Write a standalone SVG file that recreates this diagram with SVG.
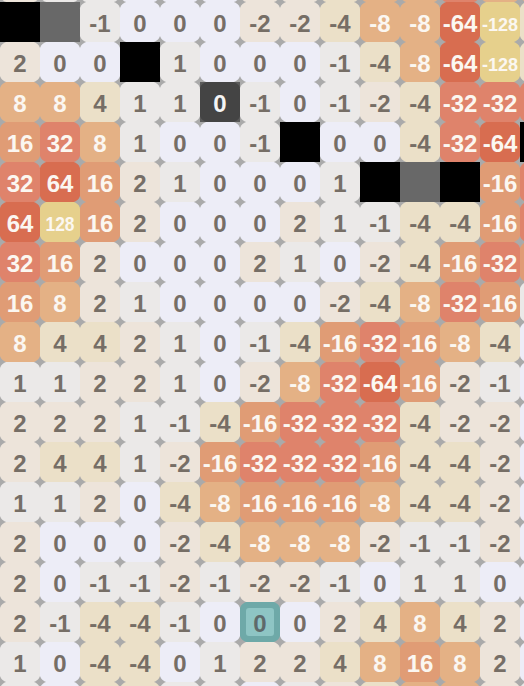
<svg xmlns="http://www.w3.org/2000/svg" xmlns:xlink="http://www.w3.org/1999/xlink" width="524" height="686" viewBox="0 0 524 686">
<style>
text{font-family:"Liberation Sans",Arial,sans-serif;font-weight:bold;font-size:24px;text-anchor:middle;fill:#766e66}
.k0 use{fill:#ededf7}
.k1 use{fill:#ebe9e8}
.k2 use{fill:#ede4da}
.k4 use{fill:#ebe0c8}
.k8 use{fill:#e4b185}
.k16 use{fill:#e09c75}
.k32 use{fill:#df836b}
.k64 use{fill:#d86d50}
.k128 use{fill:#e6d08c}
.k8 text,.k16 text,.k32 text,.k64 text,.k128 text{fill:#fbf7f1}
.m{font-size:21px}
.s{font-size:19px}
.blk{fill:#000}
.gry{fill:#686868}
.dk use{fill:#444}
.dk text{fill:#f4f4f4}
.tl use{fill:#6ea9a8}
.tlin{fill:#8ec5c4}
.tl text{fill:#5e6a6b}
</style>
<defs>
<path id="t" d="M6.5,0H33.5C36,0 40,4 40,6.5V33.5C40,36 36,40 33.5,40H6.5C4,40 0,36 0,33.5V6.5C0,4 4,0 6.5,0Z"/>
</defs>
<rect width="524" height="686" fill="#aaaaaa"/>
<g id="grid">
<!-- row 0 (partial) -->
<g id="r0c0" class="k2" transform="translate(0,-38)"><use href="#t"/></g>
<g id="r0c1" class="k1" transform="translate(40,-38)"><use href="#t"/></g>
<g id="r0c2" class="k1" transform="translate(80,-38)"><use href="#t"/></g>
<g id="r0c3" class="k0" transform="translate(120,-38)"><use href="#t"/></g>
<g id="r0c4" class="k0" transform="translate(160,-38)"><use href="#t"/></g>
<g id="r0c5" class="k0" transform="translate(200,-38)"><use href="#t"/></g>
<g id="r0c6" class="k2" transform="translate(240,-38)"><use href="#t"/></g>
<g id="r0c7" class="k2" transform="translate(280,-38)"><use href="#t"/></g>
<g id="r0c8" class="k4" transform="translate(320,-38)"><use href="#t"/></g>
<g id="r0c9" class="k8" transform="translate(360,-38)"><use href="#t"/></g>
<g id="r0c10" class="k8" transform="translate(400,-38)"><use href="#t"/></g>
<g id="r0c11" class="k32" transform="translate(440,-38)"><use href="#t"/></g>
<g id="r0c12" class="k8" transform="translate(480,-38)"><use href="#t"/></g>
<g id="r0c13" class="k8" transform="translate(520,-38)"><use href="#t"/></g>
<!-- row 1 -->
<g id="r1c0" transform="translate(0,2)"><rect class="blk" width="40" height="40"/></g>
<g id="r1c1" transform="translate(40,2)"><rect class="gry" width="40" height="40"/></g>
<g id="r1c2" class="k1" transform="translate(80,2)"><use href="#t"/><text x="20" y="30">-1</text></g>
<g id="r1c3" class="k0" transform="translate(120,2)"><use href="#t"/><text x="20" y="30">0</text></g>
<g id="r1c4" class="k0" transform="translate(160,2)"><use href="#t"/><text x="20" y="30">0</text></g>
<g id="r1c5" class="k0" transform="translate(200,2)"><use href="#t"/><text x="20" y="30">0</text></g>
<g id="r1c6" class="k2" transform="translate(240,2)"><use href="#t"/><text x="20" y="30">-2</text></g>
<g id="r1c7" class="k2" transform="translate(280,2)"><use href="#t"/><text x="20" y="30">-2</text></g>
<g id="r1c8" class="k4" transform="translate(320,2)"><use href="#t"/><text x="20" y="30">-4</text></g>
<g id="r1c9" class="k8" transform="translate(360,2)"><use href="#t"/><text x="20" y="30">-8</text></g>
<g id="r1c10" class="k8" transform="translate(400,2)"><use href="#t"/><text x="20" y="30">-8</text></g>
<g id="r1c11" class="k64" transform="translate(440,2)"><use href="#t"/><text x="20" y="30">-64</text></g>
<g id="r1c12" class="k128" transform="translate(480,2)"><use href="#t"/><text class="s" x="20" y="29" textLength="36" lengthAdjust="spacingAndGlyphs">-128</text></g>
<g id="r1c13" class="k4" transform="translate(520,2)"><use href="#t"/></g>
<!-- row 2 -->
<g id="r2c0" class="k2" transform="translate(0,42)"><use href="#t"/><text x="20" y="30">2</text></g>
<g id="r2c1" class="k0" transform="translate(40,42)"><use href="#t"/><text x="20" y="30">0</text></g>
<g id="r2c2" class="k0" transform="translate(80,42)"><use href="#t"/><text x="20" y="30">0</text></g>
<g id="r2c3" transform="translate(120,42)"><rect class="blk" width="40" height="40"/></g>
<g id="r2c4" class="k1" transform="translate(160,42)"><use href="#t"/><text x="20" y="30">1</text></g>
<g id="r2c5" class="k0" transform="translate(200,42)"><use href="#t"/><text x="20" y="30">0</text></g>
<g id="r2c6" class="k0" transform="translate(240,42)"><use href="#t"/><text x="20" y="30">0</text></g>
<g id="r2c7" class="k0" transform="translate(280,42)"><use href="#t"/><text x="20" y="30">0</text></g>
<g id="r2c8" class="k1" transform="translate(320,42)"><use href="#t"/><text x="20" y="30">-1</text></g>
<g id="r2c9" class="k4" transform="translate(360,42)"><use href="#t"/><text x="20" y="30">-4</text></g>
<g id="r2c10" class="k8" transform="translate(400,42)"><use href="#t"/><text x="20" y="30">-8</text></g>
<g id="r2c11" class="k64" transform="translate(440,42)"><use href="#t"/><text x="20" y="30">-64</text></g>
<g id="r2c12" class="k128" transform="translate(480,42)"><use href="#t"/><text class="s" x="20" y="29" textLength="36" lengthAdjust="spacingAndGlyphs">-128</text></g>
<g id="r2c13" class="k4" transform="translate(520,42)"><use href="#t"/></g>
<!-- row 3 -->
<g id="r3c0" class="k8" transform="translate(0,82)"><use href="#t"/><text x="20" y="30">8</text></g>
<g id="r3c1" class="k8" transform="translate(40,82)"><use href="#t"/><text x="20" y="30">8</text></g>
<g id="r3c2" class="k4" transform="translate(80,82)"><use href="#t"/><text x="20" y="30">4</text></g>
<g id="r3c3" class="k1" transform="translate(120,82)"><use href="#t"/><text x="20" y="30">1</text></g>
<g id="r3c4" class="k1" transform="translate(160,82)"><use href="#t"/><text x="20" y="30">1</text></g>
<g id="r3c5" class="dk" transform="translate(200,82)"><rect width="40" height="40" fill="#5a5a5a"/><use href="#t"/><text x="20" y="30">0</text></g>
<g id="r3c6" class="k1" transform="translate(240,82)"><use href="#t"/><text x="20" y="30">-1</text></g>
<g id="r3c7" class="k0" transform="translate(280,82)"><use href="#t"/><text x="20" y="30">0</text></g>
<g id="r3c8" class="k1" transform="translate(320,82)"><use href="#t"/><text x="20" y="30">-1</text></g>
<g id="r3c9" class="k2" transform="translate(360,82)"><use href="#t"/><text x="20" y="30">-2</text></g>
<g id="r3c10" class="k4" transform="translate(400,82)"><use href="#t"/><text x="20" y="30">-4</text></g>
<g id="r3c11" class="k32" transform="translate(440,82)"><use href="#t"/><text x="20" y="30">-32</text></g>
<g id="r3c12" class="k32" transform="translate(480,82)"><use href="#t"/><text x="20" y="30">-32</text></g>
<g id="r3c13" class="k32" transform="translate(520,82)"><use href="#t"/></g>
<!-- row 4 -->
<g id="r4c0" class="k16" transform="translate(0,122)"><use href="#t"/><text x="20" y="30">16</text></g>
<g id="r4c1" class="k32" transform="translate(40,122)"><use href="#t"/><text x="20" y="30">32</text></g>
<g id="r4c2" class="k8" transform="translate(80,122)"><use href="#t"/><text x="20" y="30">8</text></g>
<g id="r4c3" class="k1" transform="translate(120,122)"><use href="#t"/><text x="20" y="30">1</text></g>
<g id="r4c4" class="k0" transform="translate(160,122)"><use href="#t"/><text x="20" y="30">0</text></g>
<g id="r4c5" class="k0" transform="translate(200,122)"><use href="#t"/><text x="20" y="30">0</text></g>
<g id="r4c6" class="k1" transform="translate(240,122)"><use href="#t"/><text x="20" y="30">-1</text></g>
<g id="r4c7" transform="translate(280,122)"><rect class="blk" width="40" height="40"/></g>
<g id="r4c8" class="k0" transform="translate(320,122)"><use href="#t"/><text x="20" y="30">0</text></g>
<g id="r4c9" class="k0" transform="translate(360,122)"><use href="#t"/><text x="20" y="30">0</text></g>
<g id="r4c10" class="k4" transform="translate(400,122)"><use href="#t"/><text x="20" y="30">-4</text></g>
<g id="r4c11" class="k32" transform="translate(440,122)"><use href="#t"/><text x="20" y="30">-32</text></g>
<g id="r4c12" class="k64" transform="translate(480,122)"><use href="#t"/><text x="20" y="30">-64</text></g>
<g id="r4c13" transform="translate(520,122)"><rect class="blk" width="40" height="40"/></g>
<!-- row 5 -->
<g id="r5c0" class="k32" transform="translate(0,162)"><use href="#t"/><text x="20" y="30">32</text></g>
<g id="r5c1" class="k64" transform="translate(40,162)"><use href="#t"/><text x="20" y="30">64</text></g>
<g id="r5c2" class="k16" transform="translate(80,162)"><use href="#t"/><text x="20" y="30">16</text></g>
<g id="r5c3" class="k2" transform="translate(120,162)"><use href="#t"/><text x="20" y="30">2</text></g>
<g id="r5c4" class="k1" transform="translate(160,162)"><use href="#t"/><text x="20" y="30">1</text></g>
<g id="r5c5" class="k0" transform="translate(200,162)"><use href="#t"/><text x="20" y="30">0</text></g>
<g id="r5c6" class="k0" transform="translate(240,162)"><use href="#t"/><text x="20" y="30">0</text></g>
<g id="r5c7" class="k0" transform="translate(280,162)"><use href="#t"/><text x="20" y="30">0</text></g>
<g id="r5c8" class="k1" transform="translate(320,162)"><use href="#t"/><text x="20" y="30">1</text></g>
<g id="r5c9" transform="translate(360,162)"><rect class="blk" width="40" height="40"/></g>
<g id="r5c10" transform="translate(400,162)"><rect class="gry" width="40" height="40"/></g>
<g id="r5c11" transform="translate(440,162)"><rect class="blk" width="40" height="40"/></g>
<g id="r5c12" class="k16" transform="translate(480,162)"><use href="#t"/><text x="20" y="30">-16</text></g>
<g id="r5c13" class="k32" transform="translate(520,162)"><use href="#t"/></g>
<!-- row 6 -->
<g id="r6c0" class="k64" transform="translate(0,202)"><use href="#t"/><text x="20" y="30">64</text></g>
<g id="r6c1" class="k128" transform="translate(40,202)"><use href="#t"/><text class="m" x="20" y="29" textLength="29" lengthAdjust="spacingAndGlyphs">128</text></g>
<g id="r6c2" class="k16" transform="translate(80,202)"><use href="#t"/><text x="20" y="30">16</text></g>
<g id="r6c3" class="k2" transform="translate(120,202)"><use href="#t"/><text x="20" y="30">2</text></g>
<g id="r6c4" class="k0" transform="translate(160,202)"><use href="#t"/><text x="20" y="30">0</text></g>
<g id="r6c5" class="k0" transform="translate(200,202)"><use href="#t"/><text x="20" y="30">0</text></g>
<g id="r6c6" class="k0" transform="translate(240,202)"><use href="#t"/><text x="20" y="30">0</text></g>
<g id="r6c7" class="k2" transform="translate(280,202)"><use href="#t"/><text x="20" y="30">2</text></g>
<g id="r6c8" class="k1" transform="translate(320,202)"><use href="#t"/><text x="20" y="30">1</text></g>
<g id="r6c9" class="k1" transform="translate(360,202)"><use href="#t"/><text x="20" y="30">-1</text></g>
<g id="r6c10" class="k4" transform="translate(400,202)"><use href="#t"/><text x="20" y="30">-4</text></g>
<g id="r6c11" class="k4" transform="translate(440,202)"><use href="#t"/><text x="20" y="30">-4</text></g>
<g id="r6c12" class="k16" transform="translate(480,202)"><use href="#t"/><text x="20" y="30">-16</text></g>
<g id="r6c13" class="k32" transform="translate(520,202)"><use href="#t"/></g>
<!-- row 7 -->
<g id="r7c0" class="k32" transform="translate(0,242)"><use href="#t"/><text x="20" y="30">32</text></g>
<g id="r7c1" class="k16" transform="translate(40,242)"><use href="#t"/><text x="20" y="30">16</text></g>
<g id="r7c2" class="k2" transform="translate(80,242)"><use href="#t"/><text x="20" y="30">2</text></g>
<g id="r7c3" class="k0" transform="translate(120,242)"><use href="#t"/><text x="20" y="30">0</text></g>
<g id="r7c4" class="k0" transform="translate(160,242)"><use href="#t"/><text x="20" y="30">0</text></g>
<g id="r7c5" class="k0" transform="translate(200,242)"><use href="#t"/><text x="20" y="30">0</text></g>
<g id="r7c6" class="k2" transform="translate(240,242)"><use href="#t"/><text x="20" y="30">2</text></g>
<g id="r7c7" class="k1" transform="translate(280,242)"><use href="#t"/><text x="20" y="30">1</text></g>
<g id="r7c8" class="k0" transform="translate(320,242)"><use href="#t"/><text x="20" y="30">0</text></g>
<g id="r7c9" class="k2" transform="translate(360,242)"><use href="#t"/><text x="20" y="30">-2</text></g>
<g id="r7c10" class="k4" transform="translate(400,242)"><use href="#t"/><text x="20" y="30">-4</text></g>
<g id="r7c11" class="k16" transform="translate(440,242)"><use href="#t"/><text x="20" y="30">-16</text></g>
<g id="r7c12" class="k32" transform="translate(480,242)"><use href="#t"/><text x="20" y="30">-32</text></g>
<g id="r7c13" class="k16" transform="translate(520,242)"><use href="#t"/></g>
<!-- row 8 -->
<g id="r8c0" class="k16" transform="translate(0,282)"><use href="#t"/><text x="20" y="30">16</text></g>
<g id="r8c1" class="k8" transform="translate(40,282)"><use href="#t"/><text x="20" y="30">8</text></g>
<g id="r8c2" class="k2" transform="translate(80,282)"><use href="#t"/><text x="20" y="30">2</text></g>
<g id="r8c3" class="k1" transform="translate(120,282)"><use href="#t"/><text x="20" y="30">1</text></g>
<g id="r8c4" class="k0" transform="translate(160,282)"><use href="#t"/><text x="20" y="30">0</text></g>
<g id="r8c5" class="k0" transform="translate(200,282)"><use href="#t"/><text x="20" y="30">0</text></g>
<g id="r8c6" class="k0" transform="translate(240,282)"><use href="#t"/><text x="20" y="30">0</text></g>
<g id="r8c7" class="k0" transform="translate(280,282)"><use href="#t"/><text x="20" y="30">0</text></g>
<g id="r8c8" class="k2" transform="translate(320,282)"><use href="#t"/><text x="20" y="30">-2</text></g>
<g id="r8c9" class="k4" transform="translate(360,282)"><use href="#t"/><text x="20" y="30">-4</text></g>
<g id="r8c10" class="k8" transform="translate(400,282)"><use href="#t"/><text x="20" y="30">-8</text></g>
<g id="r8c11" class="k32" transform="translate(440,282)"><use href="#t"/><text x="20" y="30">-32</text></g>
<g id="r8c12" class="k16" transform="translate(480,282)"><use href="#t"/><text x="20" y="30">-16</text></g>
<g id="r8c13" class="k1" transform="translate(520,282)"><use href="#t"/></g>
<!-- row 9 -->
<g id="r9c0" class="k8" transform="translate(0,322)"><use href="#t"/><text x="20" y="30">8</text></g>
<g id="r9c1" class="k4" transform="translate(40,322)"><use href="#t"/><text x="20" y="30">4</text></g>
<g id="r9c2" class="k4" transform="translate(80,322)"><use href="#t"/><text x="20" y="30">4</text></g>
<g id="r9c3" class="k2" transform="translate(120,322)"><use href="#t"/><text x="20" y="30">2</text></g>
<g id="r9c4" class="k1" transform="translate(160,322)"><use href="#t"/><text x="20" y="30">1</text></g>
<g id="r9c5" class="k0" transform="translate(200,322)"><use href="#t"/><text x="20" y="30">0</text></g>
<g id="r9c6" class="k1" transform="translate(240,322)"><use href="#t"/><text x="20" y="30">-1</text></g>
<g id="r9c7" class="k4" transform="translate(280,322)"><use href="#t"/><text x="20" y="30">-4</text></g>
<g id="r9c8" class="k16" transform="translate(320,322)"><use href="#t"/><text x="20" y="30">-16</text></g>
<g id="r9c9" class="k32" transform="translate(360,322)"><use href="#t"/><text x="20" y="30">-32</text></g>
<g id="r9c10" class="k16" transform="translate(400,322)"><use href="#t"/><text x="20" y="30">-16</text></g>
<g id="r9c11" class="k8" transform="translate(440,322)"><use href="#t"/><text x="20" y="30">-8</text></g>
<g id="r9c12" class="k4" transform="translate(480,322)"><use href="#t"/><text x="20" y="30">-4</text></g>
<g id="r9c13" class="k0" transform="translate(520,322)"><use href="#t"/></g>
<!-- row 10 -->
<g id="r10c0" class="k1" transform="translate(0,362)"><use href="#t"/><text x="20" y="30">1</text></g>
<g id="r10c1" class="k1" transform="translate(40,362)"><use href="#t"/><text x="20" y="30">1</text></g>
<g id="r10c2" class="k2" transform="translate(80,362)"><use href="#t"/><text x="20" y="30">2</text></g>
<g id="r10c3" class="k2" transform="translate(120,362)"><use href="#t"/><text x="20" y="30">2</text></g>
<g id="r10c4" class="k1" transform="translate(160,362)"><use href="#t"/><text x="20" y="30">1</text></g>
<g id="r10c5" class="k0" transform="translate(200,362)"><use href="#t"/><text x="20" y="30">0</text></g>
<g id="r10c6" class="k2" transform="translate(240,362)"><use href="#t"/><text x="20" y="30">-2</text></g>
<g id="r10c7" class="k8" transform="translate(280,362)"><use href="#t"/><text x="20" y="30">-8</text></g>
<g id="r10c8" class="k32" transform="translate(320,362)"><use href="#t"/><text x="20" y="30">-32</text></g>
<g id="r10c9" class="k64" transform="translate(360,362)"><use href="#t"/><text x="20" y="30">-64</text></g>
<g id="r10c10" class="k16" transform="translate(400,362)"><use href="#t"/><text x="20" y="30">-16</text></g>
<g id="r10c11" class="k2" transform="translate(440,362)"><use href="#t"/><text x="20" y="30">-2</text></g>
<g id="r10c12" class="k1" transform="translate(480,362)"><use href="#t"/><text x="20" y="30">-1</text></g>
<g id="r10c13" class="k0" transform="translate(520,362)"><use href="#t"/></g>
<!-- row 11 -->
<g id="r11c0" class="k2" transform="translate(0,402)"><use href="#t"/><text x="20" y="30">2</text></g>
<g id="r11c1" class="k2" transform="translate(40,402)"><use href="#t"/><text x="20" y="30">2</text></g>
<g id="r11c2" class="k2" transform="translate(80,402)"><use href="#t"/><text x="20" y="30">2</text></g>
<g id="r11c3" class="k1" transform="translate(120,402)"><use href="#t"/><text x="20" y="30">1</text></g>
<g id="r11c4" class="k1" transform="translate(160,402)"><use href="#t"/><text x="20" y="30">-1</text></g>
<g id="r11c5" class="k4" transform="translate(200,402)"><use href="#t"/><text x="20" y="30">-4</text></g>
<g id="r11c6" class="k16" transform="translate(240,402)"><use href="#t"/><text x="20" y="30">-16</text></g>
<g id="r11c7" class="k32" transform="translate(280,402)"><use href="#t"/><text x="20" y="30">-32</text></g>
<g id="r11c8" class="k32" transform="translate(320,402)"><use href="#t"/><text x="20" y="30">-32</text></g>
<g id="r11c9" class="k32" transform="translate(360,402)"><use href="#t"/><text x="20" y="30">-32</text></g>
<g id="r11c10" class="k4" transform="translate(400,402)"><use href="#t"/><text x="20" y="30">-4</text></g>
<g id="r11c11" class="k2" transform="translate(440,402)"><use href="#t"/><text x="20" y="30">-2</text></g>
<g id="r11c12" class="k2" transform="translate(480,402)"><use href="#t"/><text x="20" y="30">-2</text></g>
<g id="r11c13" class="k0" transform="translate(520,402)"><use href="#t"/></g>
<!-- row 12 -->
<g id="r12c0" class="k2" transform="translate(0,442)"><use href="#t"/><text x="20" y="30">2</text></g>
<g id="r12c1" class="k4" transform="translate(40,442)"><use href="#t"/><text x="20" y="30">4</text></g>
<g id="r12c2" class="k4" transform="translate(80,442)"><use href="#t"/><text x="20" y="30">4</text></g>
<g id="r12c3" class="k1" transform="translate(120,442)"><use href="#t"/><text x="20" y="30">1</text></g>
<g id="r12c4" class="k2" transform="translate(160,442)"><use href="#t"/><text x="20" y="30">-2</text></g>
<g id="r12c5" class="k16" transform="translate(200,442)"><use href="#t"/><text x="20" y="30">-16</text></g>
<g id="r12c6" class="k32" transform="translate(240,442)"><use href="#t"/><text x="20" y="30">-32</text></g>
<g id="r12c7" class="k32" transform="translate(280,442)"><use href="#t"/><text x="20" y="30">-32</text></g>
<g id="r12c8" class="k32" transform="translate(320,442)"><use href="#t"/><text x="20" y="30">-32</text></g>
<g id="r12c9" class="k16" transform="translate(360,442)"><use href="#t"/><text x="20" y="30">-16</text></g>
<g id="r12c10" class="k4" transform="translate(400,442)"><use href="#t"/><text x="20" y="30">-4</text></g>
<g id="r12c11" class="k4" transform="translate(440,442)"><use href="#t"/><text x="20" y="30">-4</text></g>
<g id="r12c12" class="k2" transform="translate(480,442)"><use href="#t"/><text x="20" y="30">-2</text></g>
<g id="r12c13" class="k0" transform="translate(520,442)"><use href="#t"/></g>
<!-- row 13 -->
<g id="r13c0" class="k1" transform="translate(0,482)"><use href="#t"/><text x="20" y="30">1</text></g>
<g id="r13c1" class="k1" transform="translate(40,482)"><use href="#t"/><text x="20" y="30">1</text></g>
<g id="r13c2" class="k2" transform="translate(80,482)"><use href="#t"/><text x="20" y="30">2</text></g>
<g id="r13c3" class="k0" transform="translate(120,482)"><use href="#t"/><text x="20" y="30">0</text></g>
<g id="r13c4" class="k4" transform="translate(160,482)"><use href="#t"/><text x="20" y="30">-4</text></g>
<g id="r13c5" class="k8" transform="translate(200,482)"><use href="#t"/><text x="20" y="30">-8</text></g>
<g id="r13c6" class="k16" transform="translate(240,482)"><use href="#t"/><text x="20" y="30">-16</text></g>
<g id="r13c7" class="k16" transform="translate(280,482)"><use href="#t"/><text x="20" y="30">-16</text></g>
<g id="r13c8" class="k16" transform="translate(320,482)"><use href="#t"/><text x="20" y="30">-16</text></g>
<g id="r13c9" class="k8" transform="translate(360,482)"><use href="#t"/><text x="20" y="30">-8</text></g>
<g id="r13c10" class="k4" transform="translate(400,482)"><use href="#t"/><text x="20" y="30">-4</text></g>
<g id="r13c11" class="k4" transform="translate(440,482)"><use href="#t"/><text x="20" y="30">-4</text></g>
<g id="r13c12" class="k2" transform="translate(480,482)"><use href="#t"/><text x="20" y="30">-2</text></g>
<g id="r13c13" class="k0" transform="translate(520,482)"><use href="#t"/></g>
<!-- row 14 -->
<g id="r14c0" class="k2" transform="translate(0,522)"><use href="#t"/><text x="20" y="30">2</text></g>
<g id="r14c1" class="k0" transform="translate(40,522)"><use href="#t"/><text x="20" y="30">0</text></g>
<g id="r14c2" class="k0" transform="translate(80,522)"><use href="#t"/><text x="20" y="30">0</text></g>
<g id="r14c3" class="k0" transform="translate(120,522)"><use href="#t"/><text x="20" y="30">0</text></g>
<g id="r14c4" class="k2" transform="translate(160,522)"><use href="#t"/><text x="20" y="30">-2</text></g>
<g id="r14c5" class="k4" transform="translate(200,522)"><use href="#t"/><text x="20" y="30">-4</text></g>
<g id="r14c6" class="k8" transform="translate(240,522)"><use href="#t"/><text x="20" y="30">-8</text></g>
<g id="r14c7" class="k8" transform="translate(280,522)"><use href="#t"/><text x="20" y="30">-8</text></g>
<g id="r14c8" class="k8" transform="translate(320,522)"><use href="#t"/><text x="20" y="30">-8</text></g>
<g id="r14c9" class="k2" transform="translate(360,522)"><use href="#t"/><text x="20" y="30">-2</text></g>
<g id="r14c10" class="k1" transform="translate(400,522)"><use href="#t"/><text x="20" y="30">-1</text></g>
<g id="r14c11" class="k1" transform="translate(440,522)"><use href="#t"/><text x="20" y="30">-1</text></g>
<g id="r14c12" class="k2" transform="translate(480,522)"><use href="#t"/><text x="20" y="30">-2</text></g>
<g id="r14c13" class="k0" transform="translate(520,522)"><use href="#t"/></g>
<!-- row 15 -->
<g id="r15c0" class="k2" transform="translate(0,562)"><use href="#t"/><text x="20" y="30">2</text></g>
<g id="r15c1" class="k0" transform="translate(40,562)"><use href="#t"/><text x="20" y="30">0</text></g>
<g id="r15c2" class="k1" transform="translate(80,562)"><use href="#t"/><text x="20" y="30">-1</text></g>
<g id="r15c3" class="k1" transform="translate(120,562)"><use href="#t"/><text x="20" y="30">-1</text></g>
<g id="r15c4" class="k2" transform="translate(160,562)"><use href="#t"/><text x="20" y="30">-2</text></g>
<g id="r15c5" class="k1" transform="translate(200,562)"><use href="#t"/><text x="20" y="30">-1</text></g>
<g id="r15c6" class="k2" transform="translate(240,562)"><use href="#t"/><text x="20" y="30">-2</text></g>
<g id="r15c7" class="k2" transform="translate(280,562)"><use href="#t"/><text x="20" y="30">-2</text></g>
<g id="r15c8" class="k1" transform="translate(320,562)"><use href="#t"/><text x="20" y="30">-1</text></g>
<g id="r15c9" class="k0" transform="translate(360,562)"><use href="#t"/><text x="20" y="30">0</text></g>
<g id="r15c10" class="k1" transform="translate(400,562)"><use href="#t"/><text x="20" y="30">1</text></g>
<g id="r15c11" class="k1" transform="translate(440,562)"><use href="#t"/><text x="20" y="30">1</text></g>
<g id="r15c12" class="k0" transform="translate(480,562)"><use href="#t"/><text x="20" y="30">0</text></g>
<g id="r15c13" class="k0" transform="translate(520,562)"><use href="#t"/></g>
<!-- row 16 -->
<g id="r16c0" class="k2" transform="translate(0,602)"><use href="#t"/><text x="20" y="30">2</text></g>
<g id="r16c1" class="k1" transform="translate(40,602)"><use href="#t"/><text x="20" y="30">-1</text></g>
<g id="r16c2" class="k4" transform="translate(80,602)"><use href="#t"/><text x="20" y="30">-4</text></g>
<g id="r16c3" class="k4" transform="translate(120,602)"><use href="#t"/><text x="20" y="30">-4</text></g>
<g id="r16c4" class="k1" transform="translate(160,602)"><use href="#t"/><text x="20" y="30">-1</text></g>
<g id="r16c5" class="k0" transform="translate(200,602)"><use href="#t"/><text x="20" y="30">0</text></g>
<g id="r16c6" class="tl" transform="translate(240,602)"><use href="#t"/><rect class="tlin" x="6" y="6" width="28" height="28" rx="3"/><text x="20" y="30">0</text></g>
<g id="r16c7" class="k0" transform="translate(280,602)"><use href="#t"/><text x="20" y="30">0</text></g>
<g id="r16c8" class="k2" transform="translate(320,602)"><use href="#t"/><text x="20" y="30">2</text></g>
<g id="r16c9" class="k4" transform="translate(360,602)"><use href="#t"/><text x="20" y="30">4</text></g>
<g id="r16c10" class="k8" transform="translate(400,602)"><use href="#t"/><text x="20" y="30">8</text></g>
<g id="r16c11" class="k4" transform="translate(440,602)"><use href="#t"/><text x="20" y="30">4</text></g>
<g id="r16c12" class="k2" transform="translate(480,602)"><use href="#t"/><text x="20" y="30">2</text></g>
<g id="r16c13" class="k0" transform="translate(520,602)"><use href="#t"/></g>
<!-- row 17 -->
<g id="r17c0" class="k1" transform="translate(0,642)"><use href="#t"/><text x="20" y="30">1</text></g>
<g id="r17c1" class="k0" transform="translate(40,642)"><use href="#t"/><text x="20" y="30">0</text></g>
<g id="r17c2" class="k4" transform="translate(80,642)"><use href="#t"/><text x="20" y="30">-4</text></g>
<g id="r17c3" class="k4" transform="translate(120,642)"><use href="#t"/><text x="20" y="30">-4</text></g>
<g id="r17c4" class="k0" transform="translate(160,642)"><use href="#t"/><text x="20" y="30">0</text></g>
<g id="r17c5" class="k1" transform="translate(200,642)"><use href="#t"/><text x="20" y="30">1</text></g>
<g id="r17c6" class="k2" transform="translate(240,642)"><use href="#t"/><text x="20" y="30">2</text></g>
<g id="r17c7" class="k2" transform="translate(280,642)"><use href="#t"/><text x="20" y="30">2</text></g>
<g id="r17c8" class="k4" transform="translate(320,642)"><use href="#t"/><text x="20" y="30">4</text></g>
<g id="r17c9" class="k8" transform="translate(360,642)"><use href="#t"/><text x="20" y="30">8</text></g>
<g id="r17c10" class="k16" transform="translate(400,642)"><use href="#t"/><text x="20" y="30">16</text></g>
<g id="r17c11" class="k8" transform="translate(440,642)"><use href="#t"/><text x="20" y="30">8</text></g>
<g id="r17c12" class="k2" transform="translate(480,642)"><use href="#t"/><text x="20" y="30">2</text></g>
<g id="r17c13" class="k0" transform="translate(520,642)"><use href="#t"/></g>
<!-- row 18 (partial) -->
<g id="r18c0" class="k1" transform="translate(0,682)"><use href="#t"/></g>
<g id="r18c1" class="k0" transform="translate(40,682)"><use href="#t"/></g>
<g id="r18c2" class="k4" transform="translate(80,682)"><use href="#t"/></g>
<g id="r18c3" class="k4" transform="translate(120,682)"><use href="#t"/></g>
<g id="r18c4" class="k1" transform="translate(160,682)"><use href="#t"/></g>
<g id="r18c5" class="k1" transform="translate(200,682)"><use href="#t"/></g>
<g id="r18c6" class="k0" transform="translate(240,682)"><use href="#t"/></g>
<g id="r18c7" class="k1" transform="translate(280,682)"><use href="#t"/></g>
<g id="r18c8" class="k2" transform="translate(320,682)"><use href="#t"/></g>
<g id="r18c9" class="k4" transform="translate(360,682)"><use href="#t"/></g>
<g id="r18c10" class="k8" transform="translate(400,682)"><use href="#t"/></g>
<g id="r18c11" class="k8" transform="translate(440,682)"><use href="#t"/></g>
<g id="r18c12" class="k2" transform="translate(480,682)"><use href="#t"/></g>
<g id="r18c13" class="k1" transform="translate(520,682)"><use href="#t"/></g>
</g>
<g id="connectors"/>
</svg>
